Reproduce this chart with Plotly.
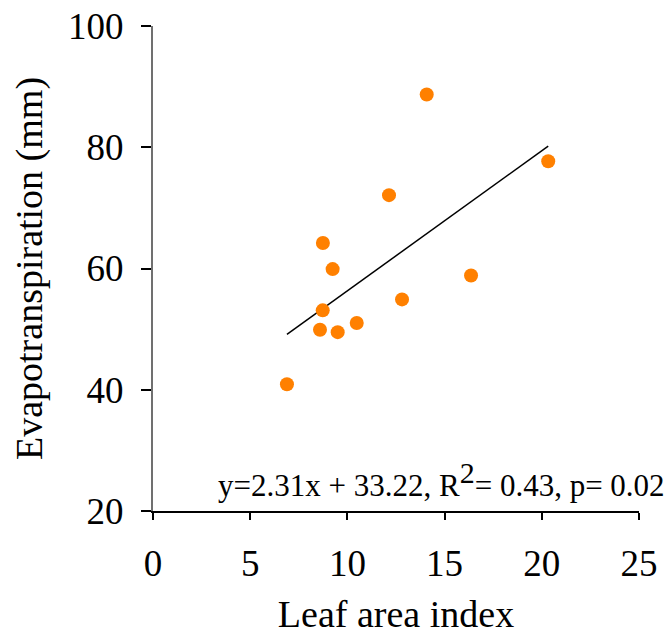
import plotly.graph_objects as go

# Leaf area index vs. evapotranspiration observations
lai = [6.89, 8.59, 8.73, 8.74, 9.24, 9.50, 10.48, 12.14, 12.81, 14.08, 16.36, 20.33]
et_mm = [40.9, 49.9, 53.1, 64.2, 59.9, 49.5, 51.0, 72.1, 54.9, 88.7, 58.85, 77.7]

# Linear fit reported on the chart
slope = 2.31
intercept = 33.22
r_squared = 0.43
p_value = 0.02

fit_x = [min(lai), max(lai)]
fit_y = [slope * v + intercept for v in fit_x]

x_ticks = [0, 5, 10, 15, 20, 25]
y_ticks = [20, 40, 60, 80, 100]

font_family = "Liberation Serif, Times New Roman, serif"

fig = go.Figure()
fig.add_trace(go.Scatter(
    x=fit_x, y=fit_y, mode="lines",
    line=dict(color="black", width=1.5),
    showlegend=False, hoverinfo="skip",
))
fig.add_trace(go.Scatter(
    x=lai, y=et_mm, mode="markers",
    marker=dict(color="#ff8000", size=14, line=dict(width=0)),
    showlegend=False,
))

fig.add_annotation(
    xref="paper", yref="paper", x=1.058, y=0.064,
    xanchor="right", yanchor="middle", showarrow=False,
    text=(f"y={slope}x + {intercept}, R<sup><span style='font-size:30px'>2</span></sup>"
          f"= {r_squared}, p= {p_value}"),
    font=dict(family=font_family, size=31, color="black"),
)

fig.update_layout(
    width=672, height=635,
    margin=dict(l=153, r=33, t=26, b=124),
    paper_bgcolor="white", plot_bgcolor="white",
    font=dict(family=font_family, color="black"),
    xaxis=dict(
        range=[0, 25], tickvals=x_ticks, showgrid=False, zeroline=False,
        automargin=False,
        showline=True, linecolor="black", linewidth=1.5,
        ticks="outside", ticklen=7, tickwidth=1.5, tickcolor="black",
        tickfont=dict(size=37), ticklabelstandoff=12,
        title=dict(text="Leaf area index", font=dict(size=38), standoff=18),
    ),
    yaxis=dict(
        range=[20, 100], tickvals=y_ticks, showgrid=False, zeroline=False,
        automargin=False,
        showline=True, linecolor="#707070", linewidth=2,
        ticks="outside", ticklen=10, tickwidth=1.5, tickcolor="black",
        tickfont=dict(size=37), ticklabelstandoff=10,
        title=dict(text="Evapotranspiration (mm)", font=dict(size=38), standoff=14),
    ),
)

fig.write_html("out.html")
